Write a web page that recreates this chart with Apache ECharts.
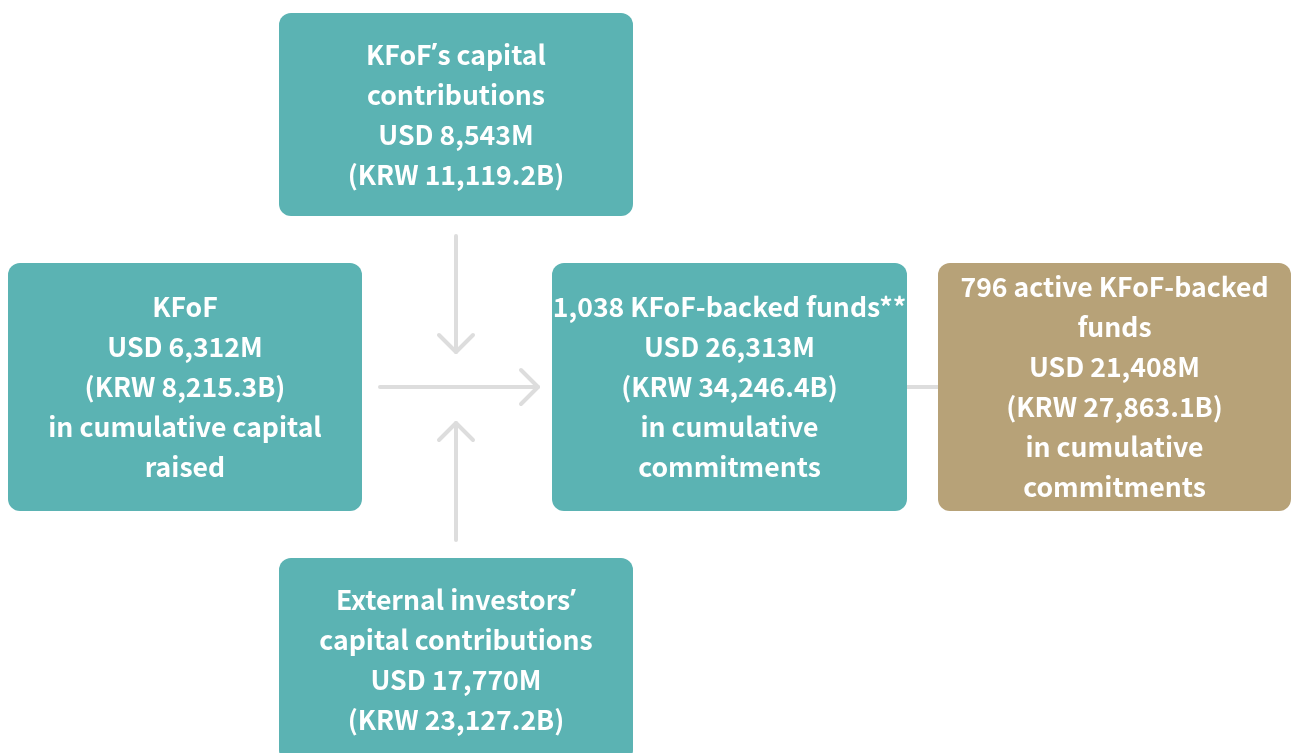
<!DOCTYPE html>
<html>
<head>
<meta charset="utf-8">
<script src="https://cdn.jsdelivr.net/npm/echarts@6/dist/echarts.min.js"></script>
<style>
  html, body { margin: 0; padding: 0; background: #fff; }
  #chart { width: 1291px; height: 753px; }
</style>
</head>
<body>
<div id="chart"></div>
<script>
// box contents ({q|’} keeps the curly quote narrow)
const boxNames = ["contrib", "kfof", "funds", "active", "external"];
const boxTexts = [
  "KFoF{q|\u2019}s capital\ncontributions\nUSD 8,543M\n(KRW 11,119.2B)",
  "KFoF\nUSD 6,312M\n(KRW 8,215.3B)\nin cumulative capital\nraised",
  "1,038 KFoF-backed funds**\nUSD 26,313M\n(KRW 34,246.4B)\nin cumulative\ncommitments",
  "796 active KFoF-backed\nfunds\nUSD 21,408M\n(KRW 27,863.1B)\nin cumulative\ncommitments",
  "External investors{q|\u2019}\ncapital contributions\nUSD 17,770M\n(KRW 23,127.2B)"
];
const boxColors = ["#5bb3b3", "#5bb3b3", "#5bb3b3", "#b7a278", "#5bb3b3"];

// layout (page pixels): x0, y0, x1, y1
const boxRects = [
  [279, 13, 633, 216],
  [8, 263, 362, 511],
  [552, 263, 907, 511],
  [938, 263, 1291, 511],
  [279, 558, 633, 762]
];
// arrows: start, end, has head
const arrowLines = [
  [[456, 236], [456, 352], true],
  [[380, 387], [538, 387], true],
  [[456, 540], [456, 423], true],
  [[907, 387], [938, 387], false]
];

const fontFamily = "'Noto Sans CJK SC', 'Source Sans Pro', sans-serif";

const chart = echarts.init(document.getElementById("chart"));

chart.setOption({
  animation: false,
  grid: { left: 0, right: 0, top: 0, bottom: 0 },
  xAxis: { type: "value", min: 0, max: 1291, show: false },
  yAxis: { type: "value", min: 0, max: 753, inverse: true, show: false },
  series: [
    {
      type: "custom",
      name: "arrows",
      silent: true,
      data: arrowLines.map((a, i) => [i]),
      renderItem: function (params, api) {
        const a = arrowLines[params.dataIndex];
        const p0 = api.coord(a[0]);
        const p1 = api.coord(a[1]);
        const style = { stroke: "#dddddd", lineWidth: 4, lineCap: "round", lineJoin: "round", fill: null };
        const children = [
          { type: "line", shape: { x1: p0[0], y1: p0[1], x2: p1[0], y2: p1[1] }, style: style }
        ];
        if (a[2]) {
          const dx = p1[0] - p0[0], dy = p1[1] - p0[1];
          const len = Math.sqrt(dx * dx + dy * dy);
          const ux = dx / len, uy = dy / len;
          const h = 17;
          children.push({
            type: "polyline",
            shape: {
              points: [
                [p1[0] - ux * h - uy * h, p1[1] - uy * h + ux * h],
                [p1[0], p1[1]],
                [p1[0] - ux * h + uy * h, p1[1] - uy * h - ux * h]
              ]
            },
            style: style
          });
        }
        return { type: "group", children: children };
      }
    },
    {
      type: "custom",
      name: "boxes",
      silent: true,
      data: boxNames.map((n, i) => [i]),
      renderItem: function (params, api) {
        const i = params.dataIndex;
        const r = boxRects[i];
        const a = api.coord([r[0], r[1]]);
        const b = api.coord([r[2], r[3]]);
        return {
          type: "rect",
          shape: { x: a[0], y: a[1], width: b[0] - a[0], height: b[1] - a[1], r: 12 },
          style: { fill: boxColors[i] },
          textContent: {
            style: {
              text: boxTexts[i],
              fill: "#ffffff",
              fontSize: 26.6,
              fontWeight: "bold",
              fontFamily: fontFamily,
              lineHeight: 40,
              align: "center",
              rich: {
                q: {
                  fill: "#ffffff",
                  fontSize: 26.6,
                  fontWeight: "bold",
                  fontFamily: "'Noto Sans', sans-serif",
                  lineHeight: 40
                }
              }
            }
          },
          textConfig: { position: "inside" }
        };
      }
    }
  ]
});
</script>
</body>
</html>
